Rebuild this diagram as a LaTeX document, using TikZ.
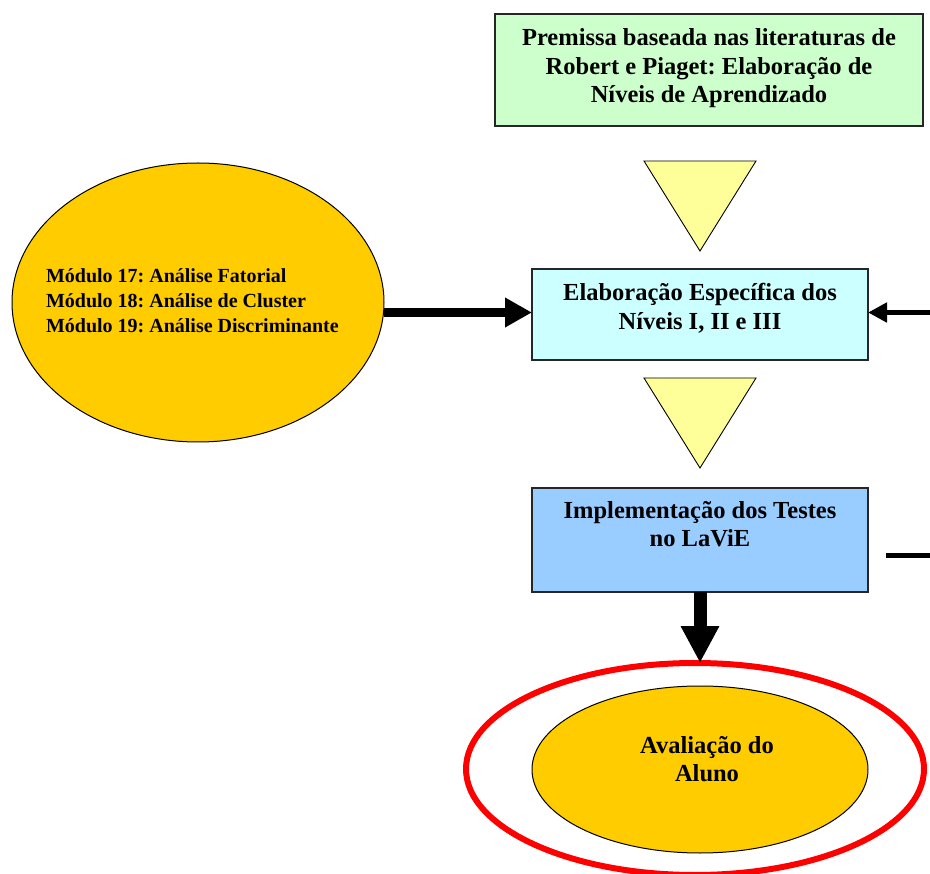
\documentclass[tikz,border=0pt]{standalone}
\usepackage{fontspec}
\setmainfont{Liberation Serif}
\usetikzlibrary{arrows.meta,shapes.geometric}
\frenchspacing

\definecolor{premgreen}{HTML}{CCFFCC}
\definecolor{elabcyan}{HTML}{CCFFFF}
\definecolor{implblue}{HTML}{99CCFF}
\definecolor{flowyellow}{HTML}{FFFF99}
\definecolor{modgold}{HTML}{FFCC00}
\definecolor{ringred}{HTML}{FF0000}

% centred block of lines in a box of fixed size; #3 = distance from top to first baseline
\newcommand\blocktext[4]{\begin{minipage}[c][#2][t]{#1}\centering\rule{0pt}{#3}#4\end{minipage}}
% lines with a fixed first-line height, for text laid over the ellipses
\newcommand\linestext[3]{\begin{minipage}[t]{#1}#2\rule{0pt}{20pt}#3\end{minipage}}

\tikzset{
  bigfont/.style={font=\fontsize{24.5pt}{28.5pt}\selectfont\bfseries},
  smallfont/.style={font=\fontsize{20pt}{25pt}\selectfont\bfseries},
  block/.style={draw=black!85, line width=1.2pt, inner sep=0pt, outer sep=0pt, bigfont},
  oval/.style={ellipse, draw=black, line width=1pt, fill=modgold, inner sep=0pt, outer sep=0pt},
  flowtri/.style={draw=black, line width=0.9pt, fill=flowyellow, line join=miter},
  label text/.style={inner sep=0pt, outer sep=0pt},
  heavyarrow/.style={line width=8.5pt, -{Triangle[length=27pt,width=28pt]}},
  sidearrow/.style={line width=5pt, -{Triangle[length=19pt,width=19pt]}},
  downarrow/.style={line width=13pt, -{Triangle[length=37pt,width=36pt]}},
}

\begin{document}
\begin{tikzpicture}[x=1pt,y=-1pt]
  \useasboundingbox (0,0) rectangle (930,874);

  % premise box
  \node[block, fill=premgreen] (prem) at (709,70)
    {\blocktext{428pt}{112pt}{32pt}{Premissa baseada nas literaturas de\\Robert e Piaget: Elaboração de\\Níveis de Aprendizado}};

  % flow triangles
  \filldraw[flowtri] (644,161) -- (756,161) -- (700,251) -- cycle;
  \filldraw[flowtri] (644,378) -- (756,378) -- (700,468) -- cycle;

  % level elaboration box
  \node[block, fill=elabcyan] (elab) at (700,314.5)
    {\blocktext{336pt}{91pt}{32pt}{Elaboração Específica dos\\Níveis I, II e III}};

  % implementation box
  \node[block, fill=implblue] (impl) at (700,540)
    {\blocktext{336pt}{104pt}{31pt}{\fontsize{24.5pt}{28pt}\selectfont Implementação dos Testes\\no LaViE}};

  % modules ellipse
  \node[oval, minimum width=372pt, minimum height=279pt] (mods) at (198,302.5) {};
  \node[label text, smallfont, anchor=north west] (modtext) at (46,263)
    {\linestext{320pt}{\raggedright}{Módulo 17: Análise Fatorial\\Módulo 18: Análise de Cluster\\Módulo 19: Análise Discriminante}};

  % evaluation: red ring and inner ellipse
  \node[ellipse, draw=ringred, line width=6pt, inner sep=0pt, outer sep=0pt,
        minimum width=458pt, minimum height=212pt] (ring) at (695,769) {};
  \node[oval, minimum width=336pt, minimum height=167pt] (aval) at (700,769.5) {};
  \node[label text, bigfont, anchor=north] (avaltext) at (707,733)
    {\linestext{200pt}{\centering}{Avaliação do\\Aluno}};

  % connectors
  \draw[heavyarrow] (mods.east |- 0,312.5) -- (elab.west |- 0,312.5);
  \coordinate (rightin) at (930,312.5);
  \draw[sidearrow] (rightin) -- (elab.east |- rightin);
  \coordinate (rightoutA) at (886,555.5);
  \coordinate (rightoutB) at (930,555.5);
  \draw[line width=5pt] (rightoutA) -- (rightoutB);
  \draw[downarrow] (impl.south) -- (impl.south |- ring.north);
\end{tikzpicture}
\end{document}
